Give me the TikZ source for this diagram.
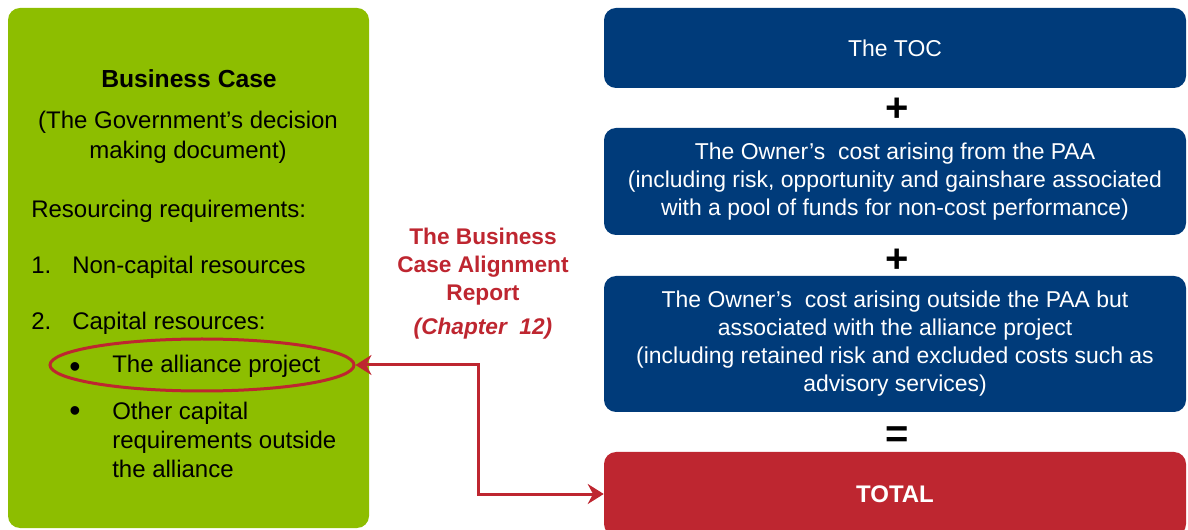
\documentclass[tikz,border=0pt]{standalone}
\usepackage{fontspec}
\setmainfont{Liberation Sans}
\usepackage{xcolor}
\usepackage{tikz}
\usetikzlibrary{shapes.geometric,arrows.meta}
\definecolor{bcgreen}{RGB}{141,190,0}
\definecolor{bcblue}{RGB}{0,59,122}
\definecolor{bcred}{RGB}{190,38,48}

\begin{document}
\begin{tikzpicture}[x=0.75pt,y=-0.75pt,
    greenbox/.style={fill=bcgreen, rounded corners=9pt, minimum width=270.75pt, minimum height=390pt, inner sep=0pt},
    bluebox/.style={fill=bcblue, text=white, rounded corners=9pt, minimum width=436.5pt, align=center, inner sep=0pt, font=\fontsize{17.2}{21}\selectfont},
    lefttext/.style={anchor=west, inner sep=0pt, text height=13pt, text depth=4pt, font=\fontsize{18}{22}\selectfont},
    sign/.style={inner sep=0pt, font=\fontsize{30}{30}\selectfont\bfseries},
    redtext/.style={text=bcred, align=center, inner sep=0pt, font=\fontsize{17}{21}\selectfont\bfseries},
    linkarrow/.style={{Stealth[length=12pt,width=15pt,inset=4pt]}-{Stealth[length=12pt,width=15pt,inset=4pt]}, bcred, line width=2.25pt}]
    \useasboundingbox (0,0) rectangle (1188,530);

    % basics
    \node[greenbox] (case) at (188.5,268) {};
    \node[bluebox, minimum height=60pt] (toc) at (895,48) {The TOC};
    \node[bluebox, minimum height=80.25pt] (paa) at (895,181.5) {The Owner’s\ \ cost arising from the PAA\\(including risk, opportunity and gainshare associated\\with a pool of funds for non-cost performance)};
    \node[bluebox, minimum height=102pt] (outside) at (895,344) {The Owner’s\ \ cost arising outside the PAA but\\associated with the alliance project\\(including retained risk and excluded costs such as\\advisory services)};
    \node[bluebox, fill=bcred, minimum height=63pt, font=\fontsize{18}{22}\selectfont\bfseries] (total) at (895,494) {TOTAL};

    \node[sign] (plus1) at (897,110) {+};
    \node[sign] (plus2) at (897,261) {+};
    \node[sign] (equals) at (897,437) {=};

    % text
    \node[inner sep=0pt, font=\fontsize{18.5}{22}\selectfont\bfseries] (title) at (189,79) {Business Case};
    \node[inner sep=0pt, align=center, font=\fontsize{18}{22.5}\selectfont] (purpose) at (188,137) {(The Government’s decision\\making document)};
    \node[lefttext] (resourcing) at (31,212) {Resourcing requirements:};
    \node[lefttext] (num1) at (31,268) {1.};
    \node[lefttext] (noncap) at (72,268) {Non-capital resources};
    \node[lefttext] (num2) at (31,324) {2.};
    \node[lefttext] (capital) at (72,324) {Capital resources:};
    \node[lefttext, font=\fontsize{24}{22}\selectfont] (dot1) at (69,372) {•};
    \node[lefttext] (alliance) at (112,367) {The alliance project};
    \node[lefttext, font=\fontsize{24}{22}\selectfont] (dot2) at (69,416) {•};
    \node[anchor=west, inner sep=0pt, align=left, font=\fontsize{18}{21.75}\selectfont] (other) at (112,440) {Other capital\\requirements outside\\the alliance};

    \node[draw=bcred, line width=2.25pt, ellipse, minimum width=228pt, minimum height=39pt] (ring) at (202,365) {};

    \node[redtext] (report) at (483,267) {The Business\\Case Alignment\\Report};
    \node[redtext, font=\fontsize{17}{21}\selectfont\bfseries\itshape] (chapter) at (483,329) {(Chapter\ \ 12)};

    % link
    \coordinate (bend) at (478,365);
    \draw[linkarrow] (ring.east) -- (bend) |- (total.west);
\end{tikzpicture}
\end{document}
